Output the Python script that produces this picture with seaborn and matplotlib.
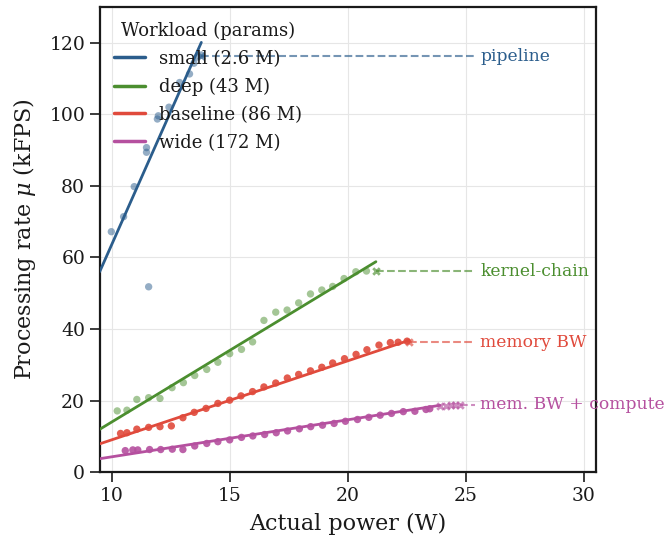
import numpy as np
import pandas as pd
import matplotlib.pyplot as plt
import seaborn as sns

# --- data ---
workloads = ["small (2.6 M)", "deep (43 M)", "baseline (86 M)", "wide (172 M)"]
bottleneck = ["pipeline", "kernel-chain", "memory BW", "mem. BW + compute"]

small_x = [9.99, 10.51, 10.96, 11.48, 11.48, 11.57, 11.94, 11.98, 12.43, 12.88, 13.30, 13.49, 13.62, 13.80]
small_y = [67.2, 71.4, 79.8, 90.7, 89.4, 51.8, 98.7, 99.6, 102.0, 108.9, 111.3, 114.3, 116.0, 116.6]

deep_x = [10.24, 10.65, 11.07, 11.57, 12.05, 12.56, 13.04, 13.52, 14.03, 14.50, 15.00, 15.50,
          15.97, 16.45, 16.95, 17.43, 17.92, 18.42, 18.90, 19.36, 19.84, 20.34, 20.79]
deep_y = [17.1, 17.3, 20.3, 20.8, 20.6, 23.6, 25.0, 27.0, 28.7, 30.7, 33.1, 34.3,
          36.4, 42.4, 44.7, 45.3, 47.3, 49.8, 50.9, 51.9, 54.1, 56.0, 56.2]

base_x = [10.38, 10.65, 11.07, 11.57, 12.05, 12.53, 13.02, 13.50, 14.00, 14.50, 15.00, 15.48, 15.97,
          16.45, 16.95, 17.44, 17.92, 18.42, 18.90, 19.36, 19.86, 20.35, 20.81, 21.32, 21.80, 22.13, 22.51]
base_y = [10.8, 11.0, 12.0, 12.5, 12.7, 12.9, 15.2, 16.7, 17.8, 19.2, 20.1, 21.3, 22.5,
          23.8, 24.9, 26.3, 27.3, 28.3, 29.3, 30.5, 31.7, 32.9, 34.2, 35.5, 36.2, 36.3, 36.6]

wide_x = [10.58, 10.90, 11.11, 11.61, 12.08, 12.57, 13.02, 13.52, 14.03, 14.50, 15.00, 15.50, 15.98,
          16.48, 16.97, 17.45, 17.95, 18.43, 18.93, 19.42, 19.90, 20.41, 20.89, 21.37, 21.85,
          22.35, 22.84, 23.31, 23.47]
wide_y = [6.0, 6.2, 6.2, 6.3, 6.3, 6.4, 6.3, 7.3, 8.0, 8.5, 9.0, 9.7, 10.1,
          10.5, 11.0, 11.5, 12.1, 12.7, 13.1, 13.6, 14.2, 14.7, 15.3, 15.9, 16.4,
          16.9, 17.0, 17.5, 17.7]

# saturated runs (x markers)
sat_x = [[13.80], [21.19], [22.60], [23.90, 24.15, 24.35, 24.55, 24.75]]
sat_y = [[116.2], [56.2], [36.3], [18.5, 18.6, 18.8, 18.8, 18.8]]

# linear fits (slope, intercept)
fit_slope = [14.9, 4.007, 2.21, 1.036]
fit_icept = [-85.5, -26.1, -13.1, -6.1]

xs = [small_x, deep_x, base_x, wide_x]
ys = [small_y, deep_y, base_y, wide_y]

colors = ["#2b5d8c", "#4b8e2f", "#e04a3c", "#b5509f"]
dot_alpha = [0.5, 0.5, 0.9, 0.9]

sns.set_theme(style="ticks")
plt.rcParams['font.family'] = ['DejaVu Serif']
plt.rcParams['mathtext.fontset'] = 'dejavuserif'
for k in ['text.color', 'axes.labelcolor', 'xtick.color', 'ytick.color']:
    plt.rcParams[k] = '#1a1a1a'

fig, ax = plt.subplots(figsize=(6.65, 5.42), dpi=100)
fig.subplots_adjust(left=0.150, right=0.896, top=0.987, bottom=0.129)

x_lo, x_label = 9.5, 25.6
for i, name in enumerate(workloads):
    df = pd.DataFrame({"x": xs[i], "y": ys[i]})
    sns.scatterplot(data=df, x="x", y="y", ax=ax, color=colors[i], alpha=dot_alpha[i],
                    s=28, edgecolor="none", legend=False, zorder=3)
    # fit line from left edge to saturation point
    lx = np.array([x_lo, sat_x[i][0]])
    ax.plot(lx, fit_slope[i] * lx + fit_icept[i], color=colors[i], lw=2, label=name, zorder=4)
    ax.scatter(sat_x[i], sat_y[i], marker="x", color=colors[i], alpha=0.65, s=22, lw=2, zorder=4)
    ax.plot([sat_x[i][-1], x_label - 0.2], [sat_y[i][-1]] * 2, ls="--", color=colors[i],
            alpha=0.65, lw=1.5, zorder=2)
    ax.text(x_label, sat_y[i][-1], bottleneck[i], color=colors[i], fontsize=12.3,
            va="center", ha="left", clip_on=False)

ax.set_xlim(9.5, 30.5)
ax.set_ylim(0, 130)
ax.set_xticks([10, 15, 20, 25, 30])
ax.set_yticks([0, 20, 40, 60, 80, 100, 120])
ax.grid(True, color="#e6e6e6", lw=0.8)
ax.set_axisbelow(True)
ax.tick_params(labelsize=13.5, direction="out", length=7, width=1.2, color="#1a1a1a")
for sp in ax.spines.values():
    sp.set_color("#1a1a1a")
    sp.set_linewidth(1.6)
ax.set_xlabel("Actual power (W)", fontsize=16, labelpad=6)
ax.set_ylabel(r"Processing rate $\mu$ (kFPS)", fontsize=16, labelpad=8)

leg = ax.legend(title="Workload (params)", loc="upper left", frameon=False, fontsize=13,
                title_fontsize=13, handlelength=1.7, borderaxespad=0.4, labelspacing=0.55)
for h in leg.legend_handles:
    h.set_linewidth(2.5)

plt.savefig("out.png", dpi=100)
